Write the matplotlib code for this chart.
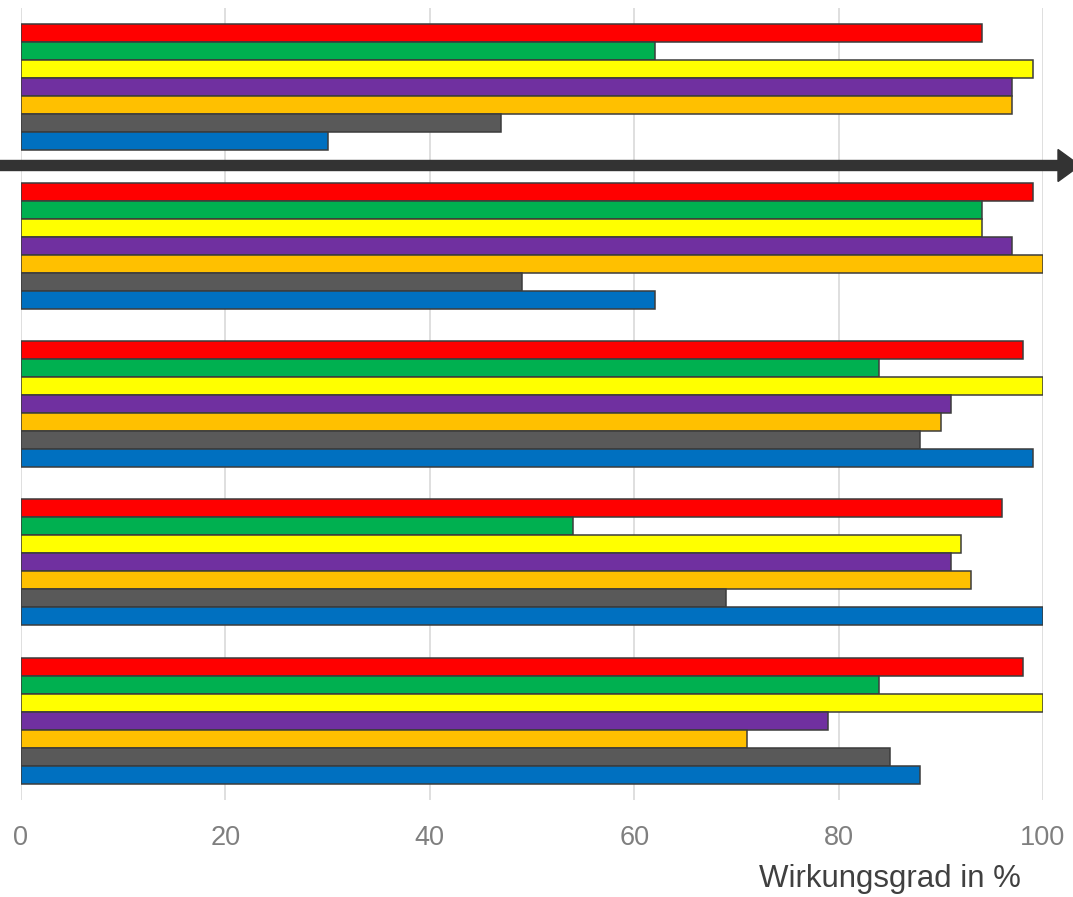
import matplotlib
matplotlib.use("Agg")
import matplotlib.pyplot as plt
import numpy as np
from matplotlib.patches import FancyArrow

plt.rcParams["font.family"] = ["Liberation Sans", "DejaVu Sans"]

# Efficiency values per group, top group first
red = [94, 99, 98, 96, 98]
green = [62, 94, 84, 54, 84]
yellow = [99, 94, 100, 92, 100]
purple = [97, 97, 91, 91, 79]
orange = [97, 100, 90, 93, 71]
gray = [47, 49, 88, 69, 85]
blue = [30, 62, 99, 100, 88]

series = [red, green, yellow, purple, orange, gray, blue]
colors = ["#FF0000", "#00B050", "#FFFF00", "#7030A0", "#FFC000", "#595959", "#0070C0"]
ticks = [0, 20, 40, 60, 80, 100]

W, H = 1073, 897
fig = plt.figure(figsize=(W / 100, H / 100), dpi=100)
ax = fig.add_axes([21 / W, (H - 800) / H, (1043 - 21) / W, 792 / H])

n_groups = len(red)
group_pos = np.arange(n_groups)
bar_h = 0.795 / len(series)
for i, (vals, col) in enumerate(zip(series, colors)):
    offset = (i - (len(series) - 1) / 2) * bar_h
    ax.barh(group_pos + offset, vals, height=bar_h, color=col,
            edgecolor="#3c3c3c", linewidth=1.1, zorder=3)

ax.set_xlim(0, 100)
ax.set_ylim(n_groups - 0.5, -0.5)
ax.set_xticks(ticks)
ax.set_yticks([])
ax.grid(axis="x", color="#d9d9d9", linewidth=1.2, zorder=0)
for s in ax.spines.values():
    s.set_visible(False)
ax.tick_params(axis="x", length=0, pad=18, labelsize=19.5, labelcolor="#7f7f7f")

fig.text(1021 / W, (H - 887) / H, "Wirkungsgrad in %", ha="right", va="baseline",
         fontsize=22.5, color="#404040")

# Dark arrow between the first and second group
y_arrow = (H - 165.5) / 100
arrow = FancyArrow(0, y_arrow, 10.80, 0, width=0.10, head_width=0.32,
                   head_length=0.22, length_includes_head=True,
                   color="#333333", transform=fig.dpi_scale_trans, zorder=5)
fig.add_artist(arrow)

fig.savefig("out.png", dpi=100)
